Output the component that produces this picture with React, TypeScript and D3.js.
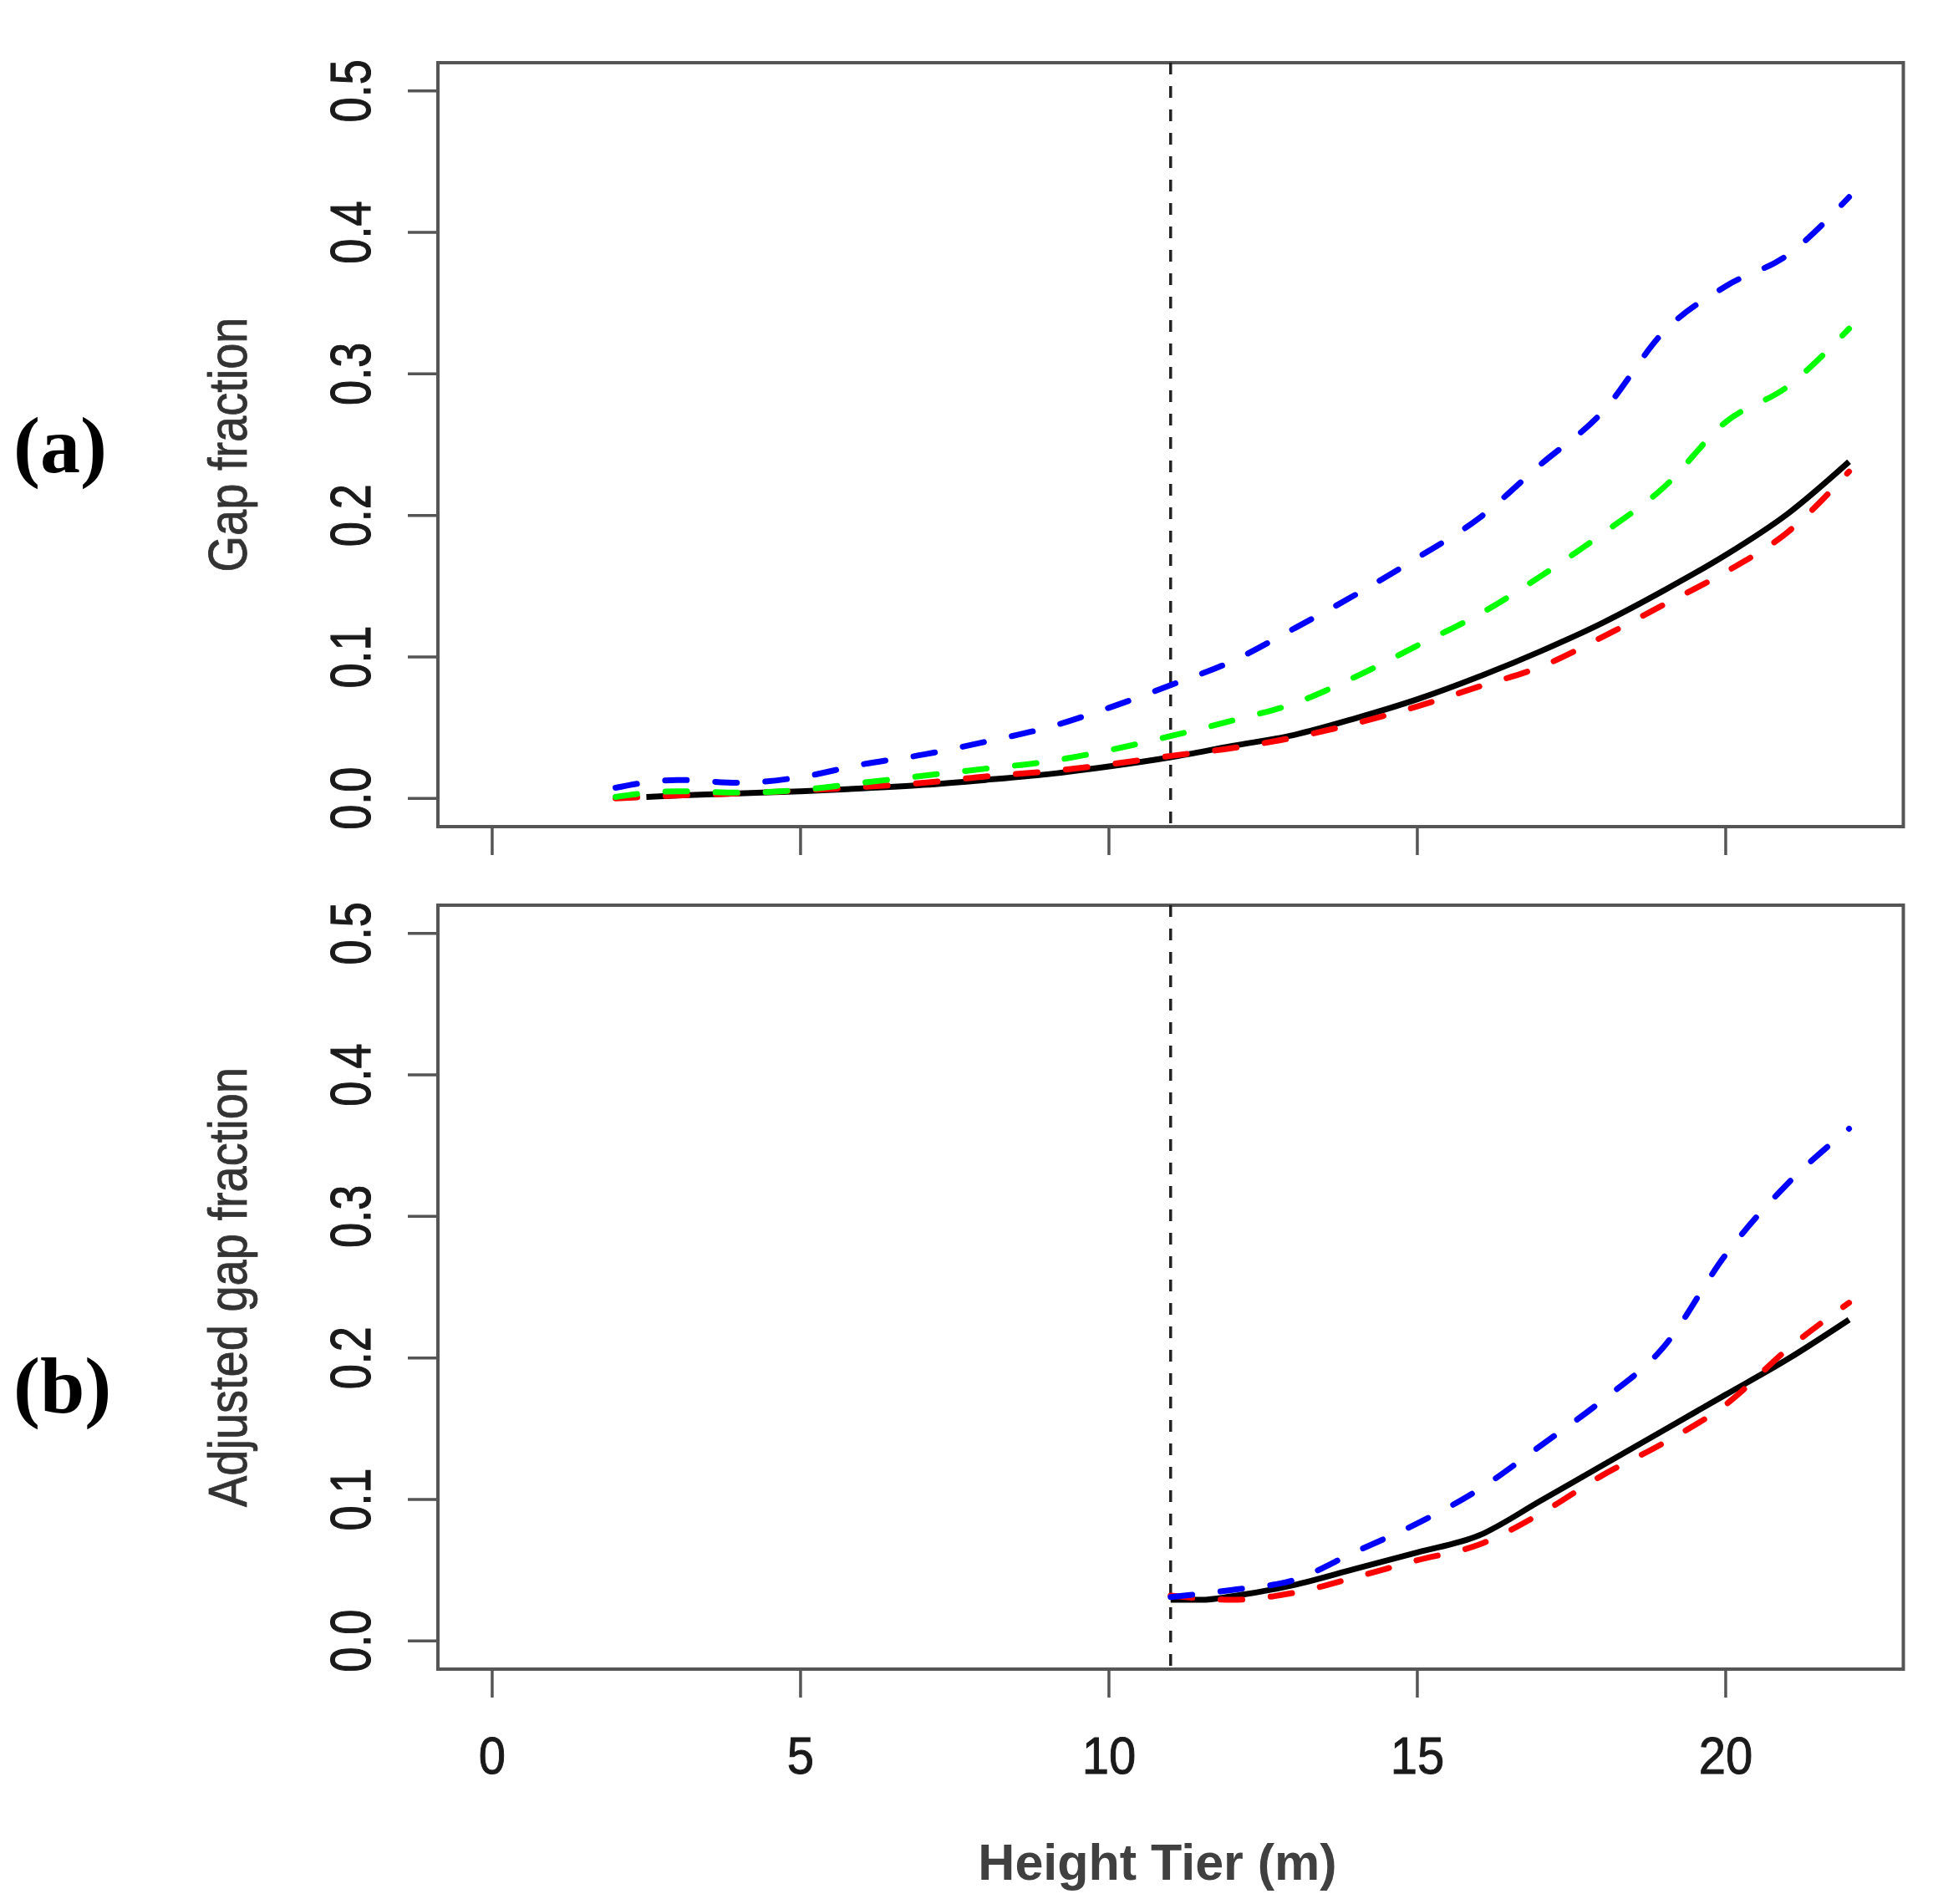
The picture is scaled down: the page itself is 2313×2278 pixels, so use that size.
import React from 'react';
import * as d3 from 'd3';

// panel (a): gap fraction by height tier
const tiersA = [2, 3, 4, 5, 6, 7, 8, 9, 10, 11, 12, 13, 14, 15, 16, 17, 18, 19, 20, 21, 22];
const blueA = [0.0075, 0.013, 0.011, 0.015, 0.024, 0.031, 0.040, 0.050, 0.064, 0.080, 0.097, 0.120, 0.144, 0.170, 0.198, 0.236, 0.273, 0.330, 0.362, 0.384, 0.425];
const greenA = [0.001, 0.005, 0.004, 0.006, 0.011, 0.016, 0.021, 0.026, 0.034, 0.044, 0.055, 0.067, 0.086, 0.108, 0.130, 0.157, 0.187, 0.220, 0.266, 0.291, 0.332];
const redA = [0.0, 0.002, 0.0035, 0.0055, 0.008, 0.011, 0.0155, 0.019, 0.024, 0.030, 0.0355, 0.043, 0.053, 0.065, 0.079, 0.093, 0.114, 0.137, 0.160, 0.188, 0.231];
const tiersBlackA = [2.5, 3, 4, 5, 6, 7, 8, 9, 10, 11, 12, 13, 14, 15, 16, 17, 18, 19, 20, 21, 22];
const blackA = [0.001, 0.002, 0.0035, 0.005, 0.007, 0.0095, 0.013, 0.017, 0.0225, 0.029, 0.037, 0.0448, 0.0566, 0.070, 0.086, 0.104, 0.124, 0.147, 0.172, 0.201, 0.238];

// panel (b): adjusted gap fraction
const tiersB = [11, 12, 13, 14, 15, 16, 17, 18, 19, 20, 21, 22];
const blueB = [0.031, 0.036, 0.043, 0.063, 0.083, 0.107, 0.138, 0.170, 0.208, 0.273, 0.323, 0.362];
const redB = [0.032, 0.029, 0.034, 0.045, 0.057, 0.068, 0.090, 0.117, 0.140, 0.167, 0.206, 0.239];
const tiersBlackB = [11, 11.5, 12, 13, 14, 15, 16, 17, 18, 19, 20, 21, 22];
const blackB = [0.029, 0.029, 0.0315, 0.0395, 0.051, 0.0625, 0.0745, 0.099, 0.124, 0.149, 0.174, 0.199, 0.227];

const xTicks = [0, 5, 10, 15, 20];
const yTicks = [0, 0.1, 0.2, 0.3, 0.4, 0.5];
const cutoffTier = 11;

const W = 2313;
const H = 2278;
const x = d3.scaleLinear().domain([-0.88, 22.88]).range([524, 2277.5]);

const SANS = '"Liberation Sans", Arial, Helvetica, sans-serif';

interface Series {
  tiers: number[];
  values: number[];
  color: string;
  dashed: boolean;
}

interface PanelProps {
  top: number;
  bottom: number;
  series: Series[];
  yTitle: string;
  tag: string;
  tagBaseline: number;
  showXLabels: boolean;
}

function Panel({ top, bottom, series, yTitle, tag, tagBaseline, showXLabels }: PanelProps) {
  const y = d3.scaleLinear().domain([-0.02, 0.52]).range([bottom, top]);
  const [x0, x1] = x.range();
  const mid = (top + bottom) / 2;

  return (
    <g>
      {/* box */}
      <rect x={x0} y={top} width={x1 - x0} height={bottom - top} fill="none" stroke="#555" strokeWidth={4} />

      {/* y axis */}
      {yTicks.map((t) => (
        <g key={t}>
          <line x1={x0 - 36} x2={x0} y1={y(t)} y2={y(t)} stroke="#555" strokeWidth={3.5} />
          <text
            transform={`translate(443, ${y(t)}) rotate(-90) scale(1, 1.28)`}
            textAnchor="middle"
            fontFamily={SANS}
            fontSize={54}
            fill="#1a1a1a"
            stroke="#1a1a1a"
            strokeWidth={0.9}
          >
            {t.toFixed(1)}
          </text>
        </g>
      ))}

      {/* x axis ticks */}
      {xTicks.map((t) => (
        <g key={t}>
          <line x1={x(t)} x2={x(t)} y1={bottom} y2={bottom + 34} stroke="#555" strokeWidth={3.5} />
          {showXLabels && (
            <text
              transform={`translate(${x(t)}, 2122) scale(1, 1.08)`}
              textAnchor="middle"
              fontFamily={SANS}
              fontSize={58}
              fill="#1a1a1a"
              stroke="#1a1a1a"
              strokeWidth={0.9}
            >
              {t}
            </text>
          )}
        </g>
      ))}

      {/* cutoff line */}
      <line
        x1={x(cutoffTier)}
        x2={x(cutoffTier)}
        y1={top}
        y2={bottom}
        stroke="#222"
        strokeWidth={3.5}
        strokeDasharray="14,14"
      />

      {/* series */}
      {series.map((s, i) => {
        const pts: [number, number][] = s.tiers.map((t, k) => [x(t), y(s.values[k])]);
        const path = d3.line().curve(d3.curveMonotoneX)(pts) || '';
        return (
          <path
            key={i}
            d={path}
            fill="none"
            stroke={s.color}
            strokeWidth={7}
            strokeLinecap={s.dashed ? 'round' : 'butt'}
            strokeLinejoin="round"
            strokeDasharray={s.dashed ? '26,34' : undefined}
          />
        );
      })}

      {/* y title */}
      <text
        transform={`translate(295, ${mid}) rotate(-90) scale(1, 1.17)`}
        textAnchor="middle"
        fontFamily={SANS}
        fontSize={56}
        fill="#333"
        stroke="#333"
        strokeWidth={0.7}
      >
        {yTitle}
      </text>

      {/* panel tag */}
      <text x={16} y={tagBaseline} fontFamily='"Liberation Serif", "Times New Roman", serif' fontWeight="bold" fontSize={96} fill="#000">
        {tag}
      </text>
    </g>
  );
}

export default function App() {
  const seriesA: Series[] = [
    { tiers: tiersBlackA, values: blackA, color: '#000000', dashed: false },
    { tiers: tiersA, values: redA, color: '#ff0000', dashed: true },
    { tiers: tiersA, values: greenA, color: '#00ff00', dashed: true },
    { tiers: tiersA, values: blueA, color: '#0000ff', dashed: true },
  ];
  const seriesB: Series[] = [
    { tiers: tiersBlackB, values: blackB, color: '#000000', dashed: false },
    { tiers: tiersB, values: redB, color: '#ff0000', dashed: true },
    { tiers: tiersB, values: blueB, color: '#0000ff', dashed: true },
  ];

  return (
    <div style={{ position: 'absolute', left: 0, top: 0 }}>
      <svg width={W} height={H} viewBox={`0 0 ${W} ${H}`} style={{ display: 'block', background: '#fff' }}>
        <rect width={W} height={H} fill="#fff" />
        <Panel top={75} bottom={989} series={seriesA} yTitle="Gap fraction" tag="(a)" tagBaseline={565} showXLabels={false} />
        <Panel top={1083} bottom={1997} series={seriesB} yTitle="Adjusted gap fraction" tag="(b)" tagBaseline={1690} showXLabels={true} />
        <text x={1385} y={2249} textAnchor="middle" fontFamily={SANS} fontWeight="bold" fontSize={61} fill="#404040">
          Height Tier (m)
        </text>
      </svg>
    </div>
  );
}
